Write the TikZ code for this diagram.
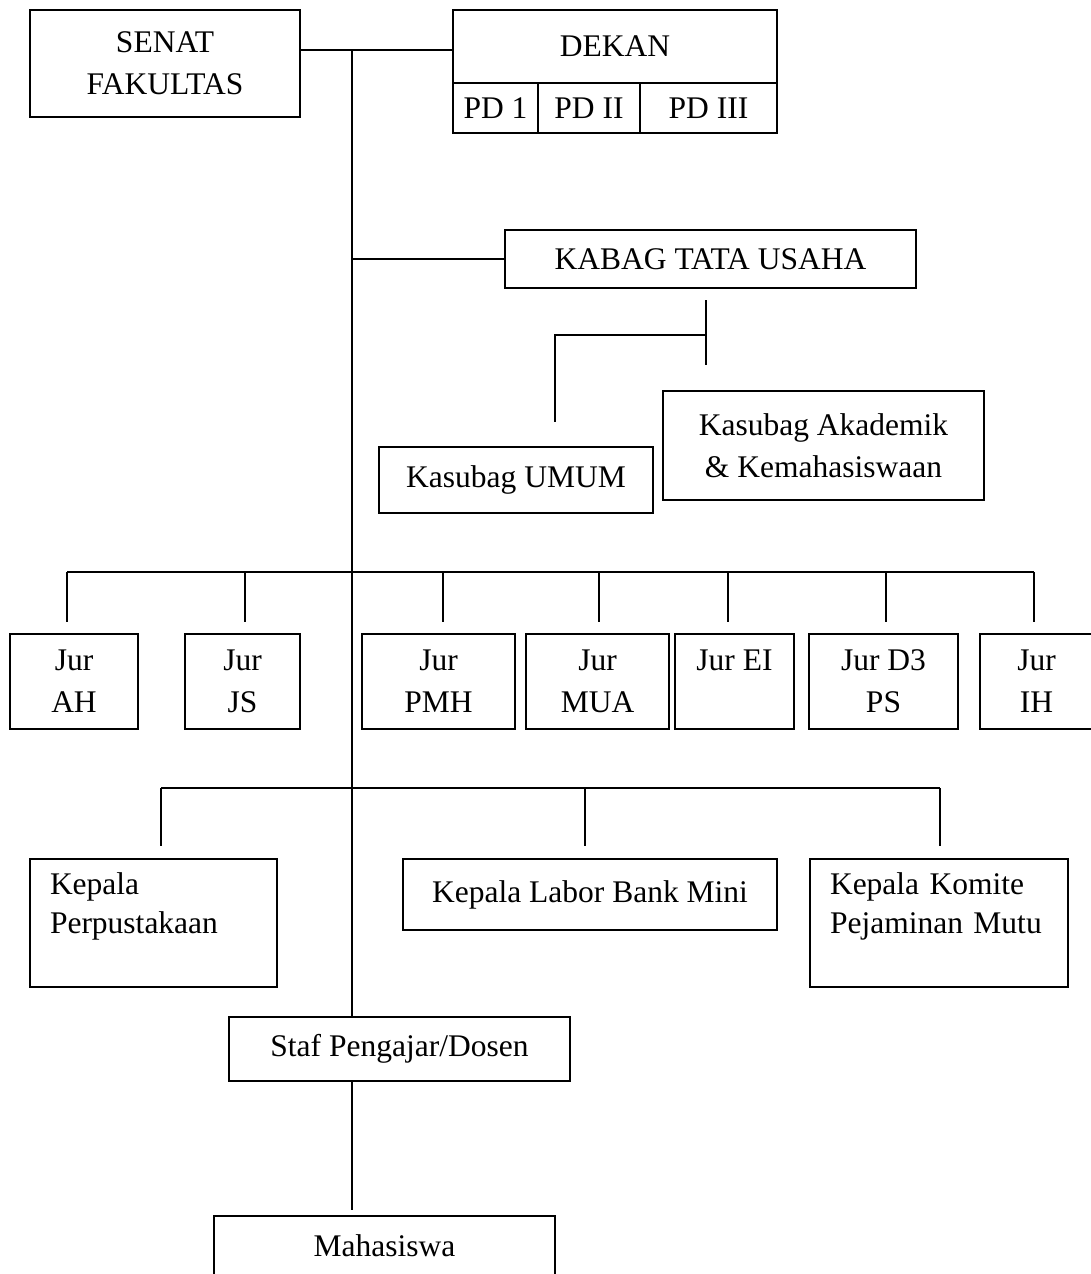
\documentclass[tikz,border=0pt]{standalone}
\usepackage{fontspec}
\setmainfont{Liberation Serif}
\usepackage{tikz}
\usetikzlibrary{calc,positioning}

\begin{document}
\begin{tikzpicture}[
    x=1pt, y=-1pt,
    line width=1.5pt,
    unit/.style={
        % The shape:
        rectangle,
        draw=black,
        line width=1.5pt,
        inner sep=0pt,
        align=center,
        % The fonts
        font=\fontsize{31.5}{42}\selectfont},
    leftunit/.style={unit, align=left, text width=#1}]
  \clip (0,0) rectangle (1091,1274);%固定画面大小
  % pimpinan
  \node (senat) [unit, minimum width=270, minimum height=107] at (165,63.5) {SENAT\\FAKULTAS};
  \node (dekan) [unit, minimum width=324, minimum height=73] at (615,46.5) {DEKAN};
  \node (pd1) [unit, minimum width=85, minimum height=50] at (495.5,108) {PD 1};
  \node (pd2) [unit, minimum width=102, minimum height=50] at (589,108) {PD II};
  \node (pd3) [unit, minimum width=137, minimum height=50] at (708.5,108) {PD III};
  % tata usaha
  \node (kabag) [unit, minimum width=411, minimum height=58] at (710.5,259) {KABAG TATA USAHA};
  \node (umum) [unit, minimum width=274, minimum height=66] at (516,480) {Kasubag UMUM};
  \node (akad) [unit, minimum width=321, minimum height=109] at (823.5,445.5) {Kasubag Akademik\\\& Kemahasiswaan};
  % jurusan
  \node (ah) [unit, minimum width=128, minimum height=95] at (74,681.5) {Jur\\AH};
  \node (js) [unit, minimum width=115, minimum height=95] at (242.5,681.5) {Jur\\JS};
  \node (pmh) [unit, minimum width=153, minimum height=95] at (438.5,681.5) {Jur\\PMH};
  \node (mua) [unit, minimum width=143, minimum height=95] at (597.5,681.5) {Jur\\MUA};
  \node (ei) [unit, minimum width=119, minimum height=95] at (734.5,681.5) {Jur EI\\\mbox{}};
  \node (ps) [unit, minimum width=149, minimum height=95] at (883.5,681.5) {Jur D3\\PS};
  \node (ih) [unit, minimum width=113, minimum height=95] at (1036.5,681.5) {Jur\\IH};
  % kepala unit
  \node (perpus) [leftunit=207, minimum width=247, minimum height=128] at (153.5,923) {Kepala\\[-3pt]Perpustakaan\\[-3pt]\mbox{}};
  \node (labor) [unit, minimum width=374, minimum height=71] at (590,894.5) {Kepala Labor Bank Mini};
  \node (komite) [leftunit=218, minimum width=258, minimum height=128] at (939,923) {Kepala Komite\\[-3pt]Pejaminan Mutu\\[-3pt]\mbox{}};
  % dosen dan mahasiswa
  \node (staf) [unit, minimum width=341, minimum height=64] at (399.5,1049) {Staf Pengajar/Dosen};
  \node (mhs) [unit, minimum width=341, minimum height=60] at (384.5,1246) {Mahasiswa};

  % garis
  \coordinate (top) at (352,50);
  \draw (top -| senat.east) -- (top -| dekan.west);
  \draw (top) -- (top |- staf.north);
  \draw (top |- kabag.west) -- (kabag.west);
  \draw (top |- staf.south) -- (352,1210);
  % garis tata usaha
  \coordinate (tu top) at (706,300);
  \coordinate (tu mid) at (706,335);
  \coordinate (umum end) at (555,422);
  \draw (tu top) -- (706,365);
  \draw (tu mid) -| (umum end);
  % garis jurusan
  \draw (67,572) -- (1034,572);
  \foreach \j/\x in {ah/67, js/245, pmh/443, mua/599, ei/728, ps/886, ih/1034}
    \draw (\x,572) coordinate (bus-\j) -- (\x,622);
  % garis kepala unit
  \draw (161,788) -- (940,788);
  \foreach \j/\x in {perpus/161, labor/585, komite/940}
    \draw (\x,788) coordinate (bus-\j) -- (\x,846);
\end{tikzpicture}
\end{document}
